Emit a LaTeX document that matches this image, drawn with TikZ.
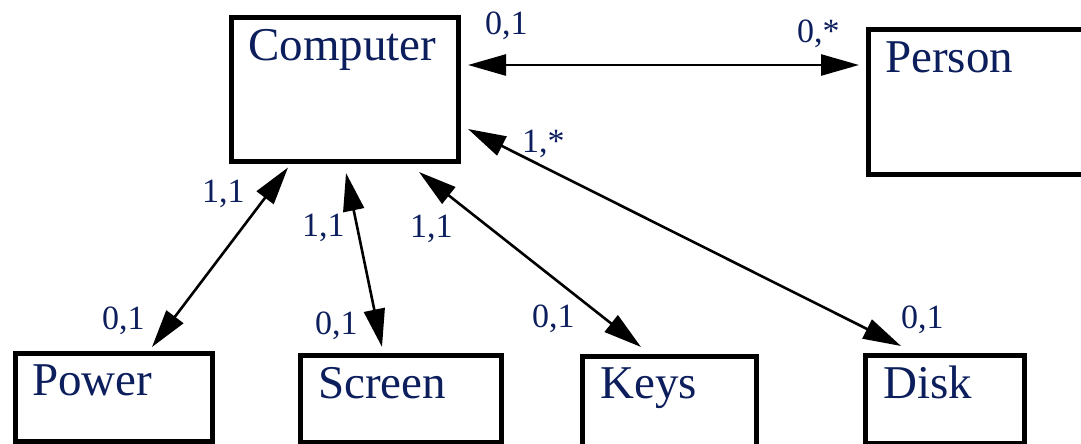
\documentclass[tikz,border=0pt]{standalone}
\usepackage{fontspec}
\setmainfont{Liberation Serif}
\usetikzlibrary{arrows.meta,calc}
\definecolor{navy}{RGB}{12,30,92}
\tikzset{
  box/.style={draw=black, line width=5pt, fill=white, inner sep=0pt, anchor=north west},
  title/.style={inner sep=0pt, anchor=base west, text=navy, font=\fontsize{47}{50}\selectfont},
  mult/.style={inner sep=0pt, anchor=base west, text=navy, font=\fontsize{34}{36}\selectfont},
  conn/.style={line width=2.6pt, {Triangle[length=38pt,width=21pt]}-{Triangle[length=38pt,width=21pt]}}
}
\begin{document}
\begin{tikzpicture}[x=1pt, y=-1pt]
\useasboundingbox (0,0) rectangle (1081,444);

% classes
\node[box, minimum width=227pt, minimum height=143pt] (comp) at (228.5,15.5) {};
\node[box, minimum width=240pt, minimum height=144pt] (pers) at (865.5,27.5) {};
\node[box, minimum width=197pt, minimum height=88pt] (powr) at (12.5,350.5) {};
\node[box, minimum width=201pt, minimum height=87pt] (scrn) at (297.5,352.5) {};
\node[box, minimum width=174pt, minimum height=120pt] (keys) at (579.5,353.5) {};
\node[box, minimum width=159pt, minimum height=88pt] (disk) at (863,353) {};

\node[title] (compt) at (248,61) {Computer};
\node[title] (perst) at (885,73) {Person};
\node[title] (powrt) at (32,395) {Power};
\node[title] (scrnt) at (318,398) {Screen};
\node[title] (keyst) at (600,398) {Keys};
\node[title] (diskt) at (883,398) {Disk};

% associations
\draw[conn] ($(comp.north east)+(7.5,49.5)$) -- ($(pers.north west)+(-6.5,37.5)$);
\draw[conn] ($(comp.north east)+(7.5,113.5)$) -- ($(disk.north west)+(38,-7)$);
\draw[conn] ($(comp.south west)+(190.5,8.5)$) -- ($(keys.north west)+(61.5,-6.5)$);
\draw[conn] ($(comp.south west)+(117.5,9.5)$) -- ($(scrn.north west)+(84.5,-5.5)$);
\draw[conn] ($(comp.south west)+(59.5,4)$) -- ($(powr.north west)+(139.5,-3.5)$);

% multiplicities
\node[mult] (m1) at (485,35) {0,1};
\node[mult] (m2) at (797,43) {0,*};
\node[mult] (m3) at (522,152) {1,*};
\node[mult] (m4) at (901,328) {0,1};
\node[mult] (m5) at (410,237) {1,1};
\node[mult] (m6) at (532,327) {0,1};
\node[mult] (m7) at (302,236) {1,1};
\node[mult] (m8) at (315,334) {0,1};
\node[mult] (m9) at (202,202) {1,1};
\node[mult] (m10) at (102,329) {0,1};
\end{tikzpicture}
\end{document}
